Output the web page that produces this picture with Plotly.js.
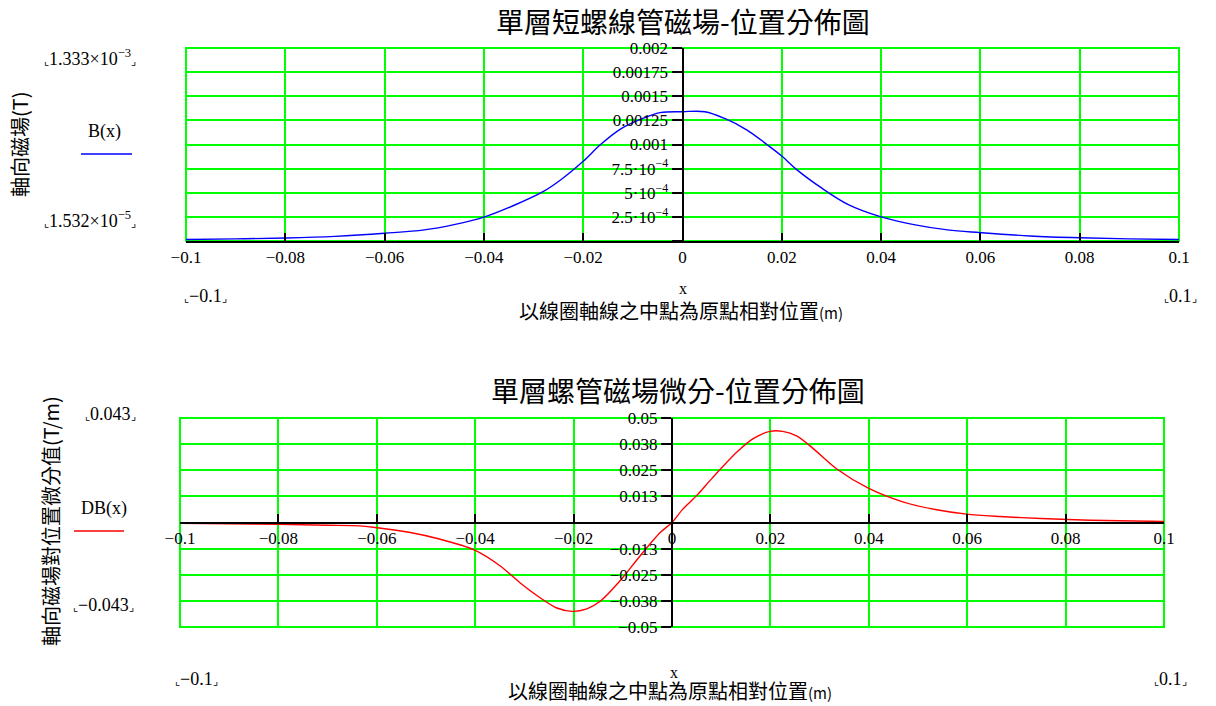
<!DOCTYPE html>
<html><head><meta charset="utf-8">
<script src="https://cdn.plot.ly/plotly-3.0.1.min.js"></script>
<style>html,body{margin:0;padding:0;background:#fff}#chart{width:1216px;height:706px}</style>
</head><body><div id="chart"></div>
<script>
// ---- data ----
const xB = [-0.1, -0.09, -0.08, -0.07, -0.06, -0.052, -0.046, -0.04, -0.034, -0.028, -0.0245, -0.02, -0.0165, -0.0125, -0.0085, -0.0045, 0, 0.0045, 0.0085, 0.013, 0.017, 0.02, 0.023, 0.028, 0.0333, 0.04, 0.0466, 0.0534, 0.06, 0.07, 0.08, 0.09, 0.1];
const B  = [0.0000153, 0.000022, 0.000031, 0.000048, 0.00008, 0.000115, 0.00017, 0.000247, 0.000368, 0.000514, 0.000635, 0.000826, 0.001, 0.00116, 0.00126, 0.00133, 0.00134, 0.00134, 0.00127, 0.00115, 0.001, 0.00088, 0.00074, 0.00055, 0.00038, 0.00025, 0.00017, 0.000115, 0.000087, 0.000052, 0.000033, 0.000022, 0.0000153];

const xDB = [-0.1, -0.09, -0.08, -0.07, -0.0634, -0.0603, -0.0532, -0.0471, -0.0402, -0.0349, -0.0309, -0.0268, -0.0234, -0.0203, -0.0173, -0.0146, -0.0106, -0.0065, -0.0024, 0, 0.0022, 0.0051, 0.0083, 0.0132, 0.0165, 0.0199, 0.0225, 0.0254, 0.0286, 0.0335, 0.04, 0.0469, 0.0538, 0.0599, 0.0666, 0.075, 0.085, 0.1];
const DB  = [-0.0004, -0.0006, -0.0009, -0.0013, -0.0016, -0.0024, -0.0048, -0.008, -0.0131, -0.0208, -0.0288, -0.036, -0.0409, -0.0425, -0.0413, -0.0377, -0.028, -0.016, -0.0048, 0, 0.0064, 0.0131, 0.0216, 0.0337, 0.0401, 0.0436, 0.0436, 0.0413, 0.0356, 0.0256, 0.0163, 0.0099, 0.0061, 0.004, 0.0029, 0.0019, 0.0011, 0.0005];

const xTickVals = [-0.1, -0.08, -0.06, -0.04, -0.02, 0, 0.02, 0.04, 0.06, 0.08, 0.1];
const xTickText = ['−0.1', '−0.08', '−0.06', '−0.04', '−0.02', '0', '0.02', '0.04', '0.06', '0.08', '0.1'];
const bTickVals = [0, 0.00025, 0.0005, 0.00075, 0.001, 0.00125, 0.0015, 0.00175, 0.002];
const bTickText = ['', '2.5·10<sup>−4</sup>', '5·10<sup>−4</sup>', '7.5·10<sup>−4</sup>', '0.001', '0.00125', '0.0015', '0.00175', '0.002'];
const dbTickVals = [-0.05, -0.0375, -0.025, -0.0125, 0, 0.0125, 0.025, 0.0375, 0.05];
const dbTickText = ['−0.05', '−0.038', '−0.025', '−0.013', '', '0.013', '0.025', '0.038', '0.05'];

const title1 = '單層短螺線管磁場-位置分佈圖';
const title2 = '單層螺管磁場微分-位置分佈圖';
const xTitle = '以線圈軸線之中點為原點相對位置';
const yTitle1 = '軸向磁場(T)';
const yTitle2 = '軸向磁場對位置微分值(T/m)';

// ---- layout helpers ----
const W = 1216, H = 706;
const fx = p => p / W, fy = p => 1 - p / H;
const serif = 'Liberation Serif, DejaVu Serif, serif';
const cjk = 'Noto Sans CJK TC, Noto Sans CJK SC, sans-serif';
const numFont = {family: serif, size: 17, color: '#000'};
const GREEN = '#00ff00';

function xAx(dom, extra) {
  return Object.assign({
    domain: dom, range: [-0.1, 0.1], tickmode: 'array', tickvals: xTickVals, ticktext: xTickText,
    showgrid: true, gridcolor: GREEN, gridwidth: 2, zeroline: false,
    showline: true, linecolor: '#000', linewidth: 2,
    ticks: 'inside', ticklen: 8, tickcolor: '#000', tickwidth: 2, tickfont: numFont, fixedrange: true
  }, extra);
}
function yAx(dom, rng, tv, tt, extra) {
  return Object.assign({
    domain: dom, range: rng, tickmode: 'array', tickvals: tv, ticktext: tt,
    showgrid: true, gridcolor: GREEN, gridwidth: 2, zeroline: false,
    showline: true, linecolor: '#000', linewidth: 2,
    ticks: 'outside', ticklen: 10, tickcolor: '#000', tickwidth: 2, tickfont: numFont, fixedrange: true
  }, extra);
}

const traces = [
  {x: xB, y: B, xaxis: 'x', yaxis: 'y', mode: 'lines', line: {color: '#0000ff', width: 1.4, shape: 'spline', smoothing: 1}, hoverinfo: 'skip'},
  {x: xDB, y: DB, xaxis: 'x2', yaxis: 'y2', mode: 'lines', line: {color: '#ff0000', width: 1.4, shape: 'spline', smoothing: 0.8}, hoverinfo: 'skip'}
];

function ann(text, px, py, font, extra) {
  return Object.assign({text: text, x: fx(px), y: fy(py), xref: 'paper', yref: 'paper', showarrow: false,
    xanchor: 'center', yanchor: 'middle', font: font}, extra || {});
}
const br = s => '<span style="font-size:11px">⌞</span>' + s + '<span style="font-size:11px">⌟</span>';
const lblFont = {family: serif, size: 18, color: '#000'};
const titleFont = {family: cjk, size: 28, color: '#000'};
const xtFont = {family: cjk, size: 20, color: '#000'};
const ytFont = {family: cjk, size: 20, color: '#000'};

const annotations = [
  ann(title1, 683, 21, titleFont),
  ann(title2, 678, 390, titleFont),
  ann(br('1.333×10<sup>−3</sup>'), 90, 57, lblFont),
  ann('B(x)', 104, 132, lblFont),
  ann(br('1.532×10<sup>−5</sup>'), 90, 220, lblFont),
  ann(yTitle1, 19, 144, ytFont, {textangle: -90}),
  ann(br('−0.1'), 205, 296, lblFont),
  ann(br('0.1'), 1180, 296, lblFont),
  ann('x', 683, 289, {family: serif, size: 16, color: '#000'}),
  ann(xTitle + '<span style="font-size:15px">(m)</span>', 681, 311, xtFont),
  ann(br('0.043'), 110, 414, lblFont),
  ann('DB(x)', 104, 508, lblFont),
  ann(br('−0.043'), 103, 605, lblFont),
  ann(yTitle2, 50, 521, ytFont, {textangle: -90}),
  ann(br('−0.1'), 196, 679, lblFont),
  ann(br('0.1'), 1170, 679, lblFont),
  ann('x', 674, 672, {family: serif, size: 16, color: '#000'}),
  ann(xTitle + '<span style="font-size:15px">(m)</span>', 670, 690, xtFont)
];

const shapes = [
  {type: 'rect', xref: 'x domain', yref: 'y domain', x0: 0, x1: 1, y0: 0, y1: 1, line: {color: GREEN, width: 2}, layer: 'below'},
  {type: 'rect', xref: 'x2 domain', yref: 'y2 domain', x0: 0, x1: 1, y0: 0, y1: 1, line: {color: GREEN, width: 2}, layer: 'below'},
  {type: 'line', xref: 'paper', yref: 'paper', x0: fx(81), x1: fx(132), y0: fy(154), y1: fy(154), line: {color: '#0000ff', width: 1.5}},
  {type: 'line', xref: 'paper', yref: 'paper', x0: fx(74), x1: fx(124), y0: fy(531), y1: fy(531), line: {color: '#ff0000', width: 1.5}}
];

const layout = {
  width: W, height: H, margin: {l: 0, r: 0, t: 0, b: 0},
  paper_bgcolor: '#fff', plot_bgcolor: '#fff', showlegend: false,
  xaxis: xAx([fx(186), fx(1179)], {anchor: 'y'}),
  yaxis: yAx([fy(241), fy(48)], [0, 0.002], bTickVals, bTickText, {anchor: 'free', position: fx(682.5)}),
  xaxis2: xAx([fx(180), fx(1164)], {anchor: 'free', position: fy(522.5)}),
  yaxis2: yAx([fy(627), fy(418)], [-0.05, 0.05], dbTickVals, dbTickText, {anchor: 'free', position: fx(672)}),
  annotations: annotations,
  shapes: shapes
};

Plotly.newPlot('chart', traces, layout, {displayModeBar: false, staticPlot: true});
</script>
</body></html>
